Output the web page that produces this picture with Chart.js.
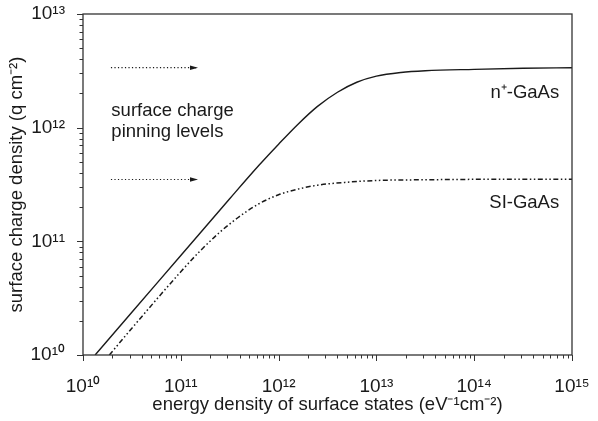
<!DOCTYPE html>
<html>
<head>
<meta charset="utf-8">
<script src="https://cdn.jsdelivr.net/npm/chart.js@4"></script>
<style>
  html, body { margin: 0; padding: 0; background: #fff; }
</style>
</head>
<body>
<canvas id="chargeChart" width="598" height="421"></canvas>
<script>
// values (log-log)
const nGaAsX = [1.33e10, 3.16e10, 1e11, 3.16e11, 6.3e11, 1e12, 1.58e12, 2.5e12, 4.0e12, 6.3e12, 1e13, 1.78e13, 3.16e13, 1e14, 3.16e14, 1e15];
const nGaAsY = [1.0e10, 2.38e10, 7.5e10, 2.37e11, 4.67e11, 7.16e11, 1.074e12, 1.54e12, 2.05e12, 2.51e12, 2.84e12, 3.06e12, 3.17e12, 3.26e12, 3.33e12, 3.37e12];

const siGaAsX = [1.86e10, 3.16e10, 1e11, 1.58e11, 2.5e11, 4.0e11, 6.3e11, 1e12, 1.58e12, 2.5e12, 5.0e12, 1e13, 3.16e13, 1e14, 1e15];
const siGaAsY = [1.0e10, 1.72e10, 5.4e10, 8.25e10, 1.2e11, 1.66e11, 2.14e11, 2.57e11, 2.88e11, 3.12e11, 3.31e11, 3.43e11, 3.48e11, 3.51e11, 3.52e11];

// pinning level arrows
const arrowX = [1.93e10, 1.5e11];
const pinLevels = [3.37e12, 3.5e11];

const xRange = [1e10, 1e15];
const yRange = [1e10, 1e13];

const supMap = {'0':'⁰','1':'¹','2':'²','3':'³','4':'⁴','5':'⁵','6':'⁶','7':'⁷','8':'⁸','9':'⁹','-':'⁻','+':'⁺'};
const sup = s => String(s).split('').map(c => supMap[c] || c).join('');

const FONT = "'Liberation Sans', Arial, sans-serif";
const INK = '#1a1a1a';

const toPts = (xs, ys) => xs.map((x, i) => ({x: x, y: ys[i]}));

function powLabel(v) {
    const e = Math.log10(v);
    if (Math.abs(e - Math.round(e)) > 1e-9) return '';
    return '10' + sup(Math.round(e));
}

// box frame, outward ticks, arrowheads and text notes
const decorPlugin = {
    id: 'decor',
    afterDraw(chart) {
        const ctx = chart.ctx;
        const a = chart.chartArea;
        const xs = chart.scales.x, ys = chart.scales.y;
        ctx.save();
        ctx.strokeStyle = '#333';
        ctx.lineWidth = 1.3;
        ctx.strokeRect(a.left, a.top, a.right - a.left, a.bottom - a.top);

        ctx.lineWidth = 1;
        ctx.beginPath();
        for (let d = 10; d <= 15; d++) {
            for (let m = 1; m <= 9; m++) {
                const v = m * Math.pow(10, d);
                if (v > xRange[1] * 1.0001) break;
                const px = Math.round(xs.getPixelForValue(v)) + 0.5;
                const len = m === 1 ? 6 : 3.5;
                ctx.moveTo(px, a.bottom);
                ctx.lineTo(px, a.bottom + len);
            }
        }
        for (let d = 10; d <= 13; d++) {
            for (let m = 1; m <= 9; m++) {
                const v = m * Math.pow(10, d);
                if (v > yRange[1] * 1.0001) break;
                const py = Math.round(ys.getPixelForValue(v)) + 0.5;
                const len = m === 1 ? 6 : 3.5;
                ctx.moveTo(a.left, py);
                ctx.lineTo(a.left - len, py);
            }
        }
        ctx.stroke();

        // arrowheads at the end of the dotted lines
        ctx.fillStyle = INK;
        chart.data.datasets.forEach((ds, i) => {
            if (!ds.isArrow) return;
            const pts = chart.getDatasetMeta(i).data;
            const tip = pts[pts.length - 1];
            ctx.beginPath();
            ctx.moveTo(tip.x, tip.y);
            ctx.lineTo(tip.x - 8, tip.y - 2.3);
            ctx.lineTo(tip.x - 8, tip.y + 2.3);
            ctx.closePath();
            ctx.fill();
        });

        ctx.fillStyle = INK;
        ctx.font = '18.5px ' + FONT;
        ctx.textBaseline = 'middle';
        ctx.textAlign = 'left';
        const lx = xs.getPixelForValue(1.95e10);
        ctx.fillText('surface charge', lx, ys.getPixelForValue(1.4e12));
        ctx.fillText('pinning levels', lx, ys.getPixelForValue(9.2e11));
        ctx.textAlign = 'right';
        const rx = xs.getPixelForValue(7.4e14);
        ctx.fillText('n' + sup('+') + '-GaAs', rx, ys.getPixelForValue(2.02e12));
        ctx.fillText('SI-GaAs', rx, ys.getPixelForValue(2.18e11));
        ctx.restore();
    }
};

const ctx = document.getElementById('chargeChart').getContext('2d');
const chargeChart = new Chart(ctx, {
    type: 'line',
    data: {
        datasets: [
            {
                label: 'n+-GaAs',
                data: toPts(nGaAsX, nGaAsY),
                borderColor: INK,
                borderWidth: 1.4,
                pointRadius: 0,
                cubicInterpolationMode: 'monotone'
            },
            {
                label: 'SI-GaAs',
                data: toPts(siGaAsX, siGaAsY),
                borderColor: INK,
                borderWidth: 1.5,
                borderDash: [5, 2.5, 1.5, 2.5, 1.5, 2.5],
                pointRadius: 0,
                cubicInterpolationMode: 'monotone'
            },
            {
                label: 'pin n+',
                isArrow: true,
                data: arrowX.map(x => ({x: x, y: pinLevels[0]})),
                borderColor: INK,
                borderWidth: 1.2,
                borderDash: [1.2, 2.3],
                pointRadius: 0
            },
            {
                label: 'pin SI',
                isArrow: true,
                data: arrowX.map(x => ({x: x, y: pinLevels[1]})),
                borderColor: INK,
                borderWidth: 1.2,
                borderDash: [1.2, 2.3],
                pointRadius: 0
            }
        ]
    },
    options: {
        responsive: false,
        animation: false,
        layout: { padding: { top: 14, right: 26, left: 0, bottom: 0 } },
        plugins: {
            legend: { display: false },
            tooltip: { enabled: false }
        },
        scales: {
            x: {
                type: 'logarithmic',
                min: xRange[0],
                max: xRange[1],
                grid: { display: false },
                border: { display: false },
                ticks: {
                    autoSkip: false,
                    maxRotation: 0,
                    padding: 12,
                    color: INK,
                    font: { family: FONT, size: 19 },
                    callback: v => powLabel(v)
                },
                title: {
                    display: true,
                    text: 'energy density of surface states (eV' + sup('-1') + 'cm' + sup('-2') + ')',
                    color: INK,
                    font: { family: FONT, size: 18.5 },
                    padding: { top: 0, bottom: 5 }
                },
                afterFit: s => {
                    s.height = 66;
                    s.paddingLeft = 0; s.paddingRight = 0;
                }
            },
            y: {
                type: 'logarithmic',
                min: yRange[0],
                max: yRange[1],
                grid: { display: false },
                border: { display: false },
                ticks: {
                    autoSkip: false,
                    padding: 10,
                    color: INK,
                    font: { family: FONT, size: 19 },
                    callback: v => powLabel(v)
                },
                title: {
                    display: true,
                    text: 'surface charge density (q cm' + sup('-2') + ')',
                    color: INK,
                    font: { family: FONT, size: 18.5 },
                    padding: { top: 6, bottom: 0 }
                },
                afterFit: s => {
                    s.width = 83;
                    s.paddingTop = 0; s.paddingBottom = 0;
                }
            }
        }
    },
    plugins: [decorPlugin]
});
</script>
</body>
</html>
